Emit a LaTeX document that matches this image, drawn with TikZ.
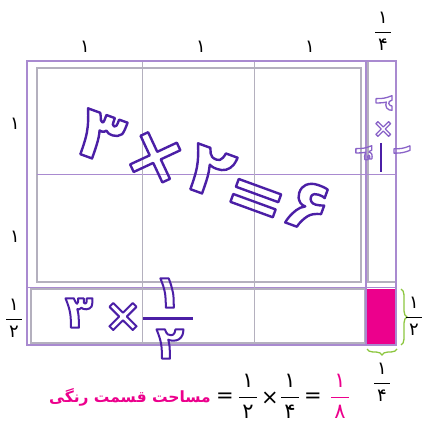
\documentclass[tikz,border=0pt]{standalone}
\usepackage{fontspec}
\usetikzlibrary{decorations.pathreplacing}
\TeXXeTstate=1
\newfontfamily\fa[Script=Arabic]{DejaVu Sans}
\definecolor{framec}{HTML}{A98AD0}
\definecolor{gridc}{HTML}{B4B0BE}
\definecolor{handc}{HTML}{4B1FA6}
\definecolor{lighthandc}{HTML}{8A63C8}
\definecolor{pinkc}{HTML}{EC008C}
\definecolor{bracec}{HTML}{8CC63F}
% outlined (stroked, not filled) glyphs
\newcommand{\hand}[3]{\textcolor{#1}{\special{pdf:literal direct 1 Tr #2 w 1 j}#3\special{pdf:literal direct 0 Tr}}}
\newcommand{\pfr}[2]{\setlength{\arrayrulewidth}{0.8pt}%
  \begin{tabular}{@{\hspace{3pt}}c@{\hspace{3pt}}}#1\\[3pt]\hline\noalign{\vskip4pt}#2\end{tabular}}

\begin{document}
\begin{tikzpicture}[
    x=1pt, y=-1pt,
    lbl/.style={inner sep=0pt, font=\fa\fontsize{18}{20}\selectfont},
    eqn/.style={inner sep=0pt, font=\fa\fontsize{21}{23}\selectfont},
    big/.style={inner sep=0pt, rotate=-20, font=\fa\bfseries\fontsize{72}{80}\selectfont},
    mid/.style={inner sep=0pt, font=\fa\bfseries\fontsize{46}{50}\selectfont},
    small/.style={inner sep=0pt, rotate=-90, font=\fa\bfseries\fontsize{25}{28}\selectfont},
    outer/.style={draw=framec, line width=1.8pt},
    inner/.style={draw=gridc, line width=1.3pt},
    brc/.style={draw=bracec, line width=1.3pt,
      decorate, decoration={brace, amplitude=6pt}}
  ]
  \useasboundingbox (0,0) rectangle (421,427);

  % --- grid
  \fill[pinkc] (367,289) rectangle (396,345);
  \draw[inner] (37,68) rectangle (361,282);
  \draw[inner] (31,289) rectangle (365,343);
  \draw[inner] (368,61) -- (368,282) -- (396,282);
  \draw[framec, line width=1pt] (37,175) -- (396,175);
  \draw[framec, line width=1pt] (27,287) -- (396,287);
  \draw[gridc, line width=1pt] (142,61) -- (142,345);
  \draw[gridc, line width=1pt] (254,61) -- (254,345);
  \draw[outer] (27,61) rectangle (396,345);
  \draw[outer] (366,61) -- (366,345);

  % --- side labels
  \node[lbl] (t1) at (85,47) {۱};
  \node[lbl] (t2) at (201,47) {۱};
  \node[lbl] (t3) at (310,47) {۱};
  \node[lbl] (tq) at (383,33) {\pfr{۱}{۴}};
  \node[lbl] (l1) at (15,124) {۱};
  \node[lbl] (l2) at (15,237) {۱};
  \node[lbl] (lh) at (14,320) {\pfr{۱}{۲}};

  % --- braces
  \coordinate (pinkne) at (401,289);
  \coordinate (pinkse) at (401,345);
  \coordinate (pinksw) at (367,349);
  \coordinate (pinkbe) at (397,349);
  \draw[brc] (pinkne) -- (pinkse);
  \draw[brc] (pinkbe) -- (pinksw);
  \node[lbl] (rh) at (414,318) {\pfr{۱}{۲}};
  \node[lbl] (bq) at (382,384) {\pfr{۱}{۴}};

  % --- big product
  \node[big] (three) at (100,137) {\hand{handc}{2.4}{۳}};
  \node[big] (times) at (155,158) {\hand{handc}{2.4}{×}};
  \node[big] (two) at (210,172) {\hand{handc}{2.4}{۲}};
  \node[big] (eq) at (254,203) {\hand{handc}{2.4}{=}};
  \node[big] (six) at (308,206) {\hand{handc}{2.4}{۶}};

  % --- bottom strip
  \node[mid] (sthree) at (79,313) {\hand{handc}{2}{۳}};
  \node[mid] (stimes) at (123,317) {\hand{handc}{2}{×}};
  \draw[handc, line width=3pt] (143,318) -- (193,318);
  \node[mid] (sone) at (168,293) {\hand{handc}{2}{۱}};
  \node[mid] (stwo) at (170,344) {\hand{handc}{2}{۲}};

  % --- right strip
  \node[small] (rtwo) at (384,103) {\hand{lighthandc}{1.3}{۲}};
  \node[small] (rtimes) at (383,129) {\hand{lighthandc}{1.3}{×}};
  \node[small] (rfour) at (364,153) {\hand{lighthandc}{1.3}{۴}};
  \node[small] (rone) at (402,150) {\hand{lighthandc}{1.3}{۱}};
  \draw[handc, line width=1.5pt] (381,143) -- (381,172);

  % --- area equation
  \node[eqn, anchor=east, text=pinkc, font=\fa\bfseries\fontsize{15.5}{18}\selectfont]
    (area) at (211,397) {\beginR مساحت قسمت رنگی\endR};
  \node[eqn] (e1) at (225,398) {=};
  \node[eqn] (fa) at (248,398) {\pfr{۱}{۲}};
  \node[eqn] (mul) at (270,398) {×};
  \node[eqn] (fb) at (290,398) {\pfr{۱}{۴}};
  \node[eqn] (e2) at (313,398) {=};
  \node[eqn, text=pinkc] (fc) at (340,398) {\pfr{۱}{۸}};
\end{tikzpicture}
\end{document}
